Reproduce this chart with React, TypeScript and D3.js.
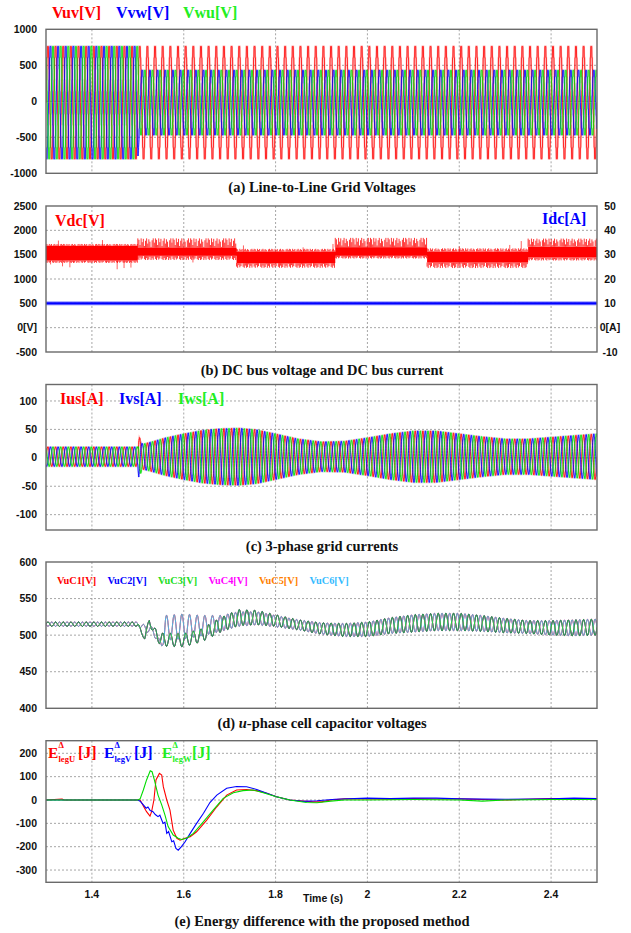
import React from "react";
import * as d3 from "d3";

// time axis (shared by all five panels)
const T_START = 1.3;
const T_END = 2.5;
const T_TICKS = [1.4, 1.6, 1.8, 2.0, 2.2, 2.4];
const T_TICK_LABELS = ["1.4", "1.6", "1.8", "2", "2.2", "2.4"];
const GRID_HZ = 60;

// (a) line-to-line grid voltages: peak envelopes
const VLL_T = [1.3, 1.5, 1.503, 2.5];
const VUV_AMP = [780, 780, 780, 780];
const VVW_AMP = [780, 780, 448, 448];
const VWU_AMP = [780, 780, 448, 448];
const VLL_OFFSET = -18;
const VLL_TICKS = [1000, 500, 0, -500, -1000];

// (b) DC bus voltage: band segments, and DC current
const VDC_SEG_T = [1.3, 1.5, 1.715, 1.93, 2.13, 2.35];
const VDC_BODY_HI = [1680, 1640, 1560, 1650, 1560, 1660];
const VDC_BODY_LO = [1380, 1480, 1330, 1480, 1340, 1440];
const VDC_COMB_UP = [1720, 1835, 1620, 1845, 1630, 1830];
const VDC_COMB_DOWN = [1330, 1390, 1230, 1420, 1225, 1380];
const COMB_PATTERN = [1, 0.85, 0.3, 1, 0.6, 0.95, 0.2, 0.75, 1, 0.45, 0.9, 0.65, 0.1, 0.8, 1, 0.55];
const VDC_SPIKE_T = [1.327, 1.423, 1.31, 1.336, 1.352, 1.455, 1.47, 1.485, 1.73, 1.86, 1.925, 2.31, 2.335, 2.2, 1.62];
const VDC_SPIKE_V = [1790, 1800, 1300, 1260, 1240, 1200, 1225, 1235, 1690, 1650, 1720, 1700, 1780, 1670, 1340];
const IDC_A = 10;
const VDC_TICKS = [2500, 2000, 1500, 1000, 500, 0, -500];
const VDC_TICK_LABELS = ["2500", "2000", "1500", "1000", "500", "0[V]", "-500"];
const IDC_TICKS = [50, 40, 30, 20, 10, 0, -10];
const IDC_TICK_LABELS = ["50", "40", "30", "20", "10", "0[A]", "-10"];

// (c) 3-phase grid currents: peak envelope
const IS_T = [1.3, 1.5, 1.502, 1.506, 1.51, 1.53, 1.56, 1.6, 1.64, 1.68, 1.72, 1.76, 1.8, 1.85, 1.9, 1.95, 2.0, 2.05, 2.1, 2.15, 2.2, 2.25, 2.3, 2.35, 2.4, 2.45, 2.5];
const IS_AMP = [17, 17, 36, 30, 22, 26, 33, 40, 46, 49, 50, 47, 40, 31, 26, 27, 33, 40, 45, 45, 40, 35, 31, 31, 34, 37, 40];
const IS_OFFSET = 2;
const IS_TICKS = [100, 50, 0, -50, -100];

// (d) u-phase cell capacitor voltages: mean and ripple amplitude
const CAP_A_T = [1.3, 1.5, 1.508, 1.515, 1.525, 1.535, 1.55, 1.6, 1.64, 1.68, 1.72, 1.76, 1.8, 1.85, 1.9, 1.95, 2.0, 2.05, 2.1, 2.15, 2.2, 2.25, 2.3, 2.35, 2.4, 2.45, 2.5];
const CAP_A_MEAN = [515, 515, 503, 496, 520, 505, 494, 493, 500, 514, 524, 524, 520, 514, 509, 507, 508, 513, 516, 518, 518, 516, 513, 511, 510, 510, 511];
const CAP_A_AMP = [3, 3, 2, 2, 4, 6, 9, 9, 9, 10, 11, 10, 8, 7, 8, 9, 10, 11, 12, 12, 12, 11, 10, 9, 10, 11, 11];
const CAP_B_T = [1.3, 1.5, 1.515, 1.535, 1.545, 1.552, 1.56, 1.6, 1.64, 1.68, 1.72, 1.76, 1.8, 1.85, 1.9, 1.95, 2.0, 2.05, 2.1, 2.15, 2.2, 2.25, 2.3, 2.35, 2.4, 2.45, 2.5];
const CAP_B_MEAN = [515, 515, 510, 505, 492, 488, 510, 512, 513, 516, 522, 523, 519, 514, 509, 507, 508, 513, 516, 518, 518, 516, 513, 511, 510, 510, 511];
const CAP_B_AMP = [3, 3, 4, 6, 4, 4, 17, 17, 14, 11, 10, 9, 8, 7, 8, 9, 10, 11, 12, 12, 12, 11, 10, 9, 10, 11, 11];
const CAP_NAMES = ["VuC1[V]", "VuC2[V]", "VuC3[V]", "VuC4[V]", "VuC5[V]", "VuC6[V]"];
const CAP_COLORS = ["#ff0000", "#0000ff", "#22dd22", "#ff00ff", "#ff8000", "#33bbff"];
const CAP_TICKS = [600, 550, 500, 450, 400];

// (e) leg energy differences
const EU_T = [1.3, 1.335, 1.34, 1.5, 1.505, 1.512, 1.519, 1.5265, 1.53, 1.535, 1.5395, 1.547, 1.552, 1.5555, 1.563, 1.57, 1.577, 1.585, 1.592, 1.603, 1.614, 1.628, 1.65, 1.672, 1.6935, 1.715, 1.737, 1.759, 1.781, 1.802, 1.831, 1.853, 1.882, 1.9, 1.92, 1.95, 2.0, 2.05, 2.1, 2.15, 2.2, 2.25, 2.3, 2.35, 2.4, 2.45, 2.5];
const EU_V = [0, 4, 0, 0, 0, -26, -50, -69, -50, 0, 86, 114, 107, 57, 0, -43, -129, -164, -172, -164, -157, -136, -86, -29, 21, 43, 45, 40, 29, 14, 0, -3, -8, -8, 0, 5, 5, 3, 6, 4, 5, 2, 0, 3, 6, 4, 3];
const EV_T = [1.3, 1.5, 1.505, 1.512, 1.518, 1.522, 1.527, 1.533, 1.538, 1.544, 1.548, 1.555, 1.559, 1.563, 1.567, 1.574, 1.578, 1.583, 1.588, 1.595, 1.603, 1.614, 1.628, 1.643, 1.657, 1.672, 1.6935, 1.715, 1.737, 1.759, 1.781, 1.802, 1.831, 1.86, 1.89, 1.93, 2.0, 2.05, 2.1, 2.15, 2.2, 2.3, 2.4, 2.45, 2.5];
const EV_V = [0, 0, -5, -21, -35, -30, -45, -50, -62, -71, -65, -100, -95, -143, -135, -179, -175, -207, -215, -200, -179, -143, -100, -57, -11, 21, 50, 58, 57, 45, 29, 14, 0, -6, -3, 3, 8, 6, 8, 8, 5, 3, 5, 8, 6];
const EW_T = [1.3, 1.5, 1.505, 1.512, 1.519, 1.527, 1.531, 1.536, 1.544, 1.552, 1.559, 1.566, 1.577, 1.588, 1.595, 1.606, 1.621, 1.643, 1.664, 1.686, 1.708, 1.729, 1.751, 1.773, 1.802, 1.831, 1.867, 1.89, 1.92, 1.95, 2.0, 2.1, 2.2, 2.25, 2.3, 2.4, 2.5];
const EW_V = [0, 0, 5, 43, 86, 125, 121, 86, 21, -21, -64, -114, -150, -164, -169, -164, -143, -93, -43, 7, 31, 40, 43, 31, 14, 0, -11, -12, -5, 0, 0, 2, 0, -5, 0, 2, 2];
const E_TICKS = [200, 100, 0, -100, -200, -300];

const RED = "#ff0000";
const BLUE = "#0000ff";
const GREEN = "#00dd00";
const LEGEND_GREEN = "#22ee22";

const SERIF = "'Liberation Serif', 'Times New Roman', serif";
const SANS = "'Liberation Sans', Arial, sans-serif";

const x = d3.scaleLinear().domain([T_START, T_END]).range([46, 597]);
const samples = d3.range(T_START, T_END, 1 / (GRID_HZ * 48)).concat([T_END]);

const envelope = (ts: number[], vs: number[]) =>
  d3.scaleLinear().domain(ts).range(vs).clamp(true);

function sineSeries(
  amp: (t: number) => number,
  mean: (t: number) => number,
  phaseDeg: number,
  steps = 0
): [number, number][] {
  return samples.map((t) => {
    const s = Math.sin(2 * Math.PI * GRID_HZ * t + (phaseDeg * Math.PI) / 180);
    const q = steps ? Math.round(s * steps) / steps : s;
    return [t, mean(t) + amp(t) * q];
  });
}

const pathOf = (y: d3.ScaleLinear<number, number>, pts: [number, number][]) =>
  d3
    .line<[number, number]>()
    .x((d) => x(d[0]))
    .y((d) => y(d[1]))(pts) || "";

function Frame({
  id,
  top,
  bottom,
  y,
  ticks,
  labels,
  children,
}: {
  id: string;
  top: number;
  bottom: number;
  y: d3.ScaleLinear<number, number>;
  ticks: number[];
  labels?: string[];
  children?: React.ReactNode;
}) {
  const [x0, x1] = x.range();
  return (
    <g>
      <defs>
        <clipPath id={id}>
          <rect x={x0} y={top} width={x1 - x0} height={bottom - top} />
        </clipPath>
      </defs>
      {ticks
        .filter((v) => y(v) > top + 2 && y(v) < bottom - 2)
        .map((v) => (
          <line key={"h" + v} x1={x0} x2={x1} y1={y(v)} y2={y(v)} stroke="#9c9c9c" strokeWidth={0.9} strokeDasharray="2,2" />
        ))}
      {T_TICKS.map((t) => (
        <line key={"v" + t} x1={x(t)} x2={x(t)} y1={top} y2={bottom} stroke="#9c9c9c" strokeWidth={0.9} strokeDasharray="2,2" />
      ))}
      <g clipPath={`url(#${id})`}>{children}</g>
      <rect x={x0} y={top} width={x1 - x0} height={bottom - top} fill="none" stroke="#6a6a6a" strokeWidth={1.4} />
      {ticks.map((v, i) => (
        <text key={"l" + v} x={37} y={y(v)} dy="0.35em" textAnchor="end" fontFamily={SANS} fontWeight={700} fontSize={10.5} fill="#111">
          {labels ? labels[i] : String(v)}
        </text>
      ))}
    </g>
  );
}

function Wave({ d, color, halo = 1.8, width = 0.8 }: { d: string; color: string; halo?: number; width?: number }) {
  return (
    <g>
      <path d={d} fill="none" stroke={color} strokeOpacity={0.28} strokeWidth={halo} />
      <path d={d} fill="none" stroke={color} strokeWidth={width} />
    </g>
  );
}

function Caption({ y, children }: { y: number; children: React.ReactNode }) {
  return (
    <text x={322} y={y} textAnchor="middle" fontFamily={SERIF} fontWeight={700} fontSize={14.5} fill="#111">
      {children}
    </text>
  );
}

function Label({ x: lx, y: ly, color, size = 16, children }: { x: number; y: number; color: string; size?: number; children: React.ReactNode }) {
  return (
    <text x={lx} y={ly} fontFamily={SERIF} fontWeight={700} fontSize={size} fill={color}>
      {children}
    </text>
  );
}

function EnergyLabel({ x: lx, color, leg }: { x: number; color: string; leg: string }) {
  return (
    <g fill={color} fontFamily={SERIF} fontWeight={700}>
      <text x={lx} y={758} fontSize={15.5}>E</text>
      <text x={lx + 10.5} y={748} fontSize={8.5}>Δ</text>
      <text x={lx + 10.5} y={762} fontSize={8.5}>{"leg" + leg}</text>
      <text x={lx + 30} y={758} fontSize={16}>[J]</text>
    </g>
  );
}

export default function App() {
  // (a)
  const yA = d3.scaleLinear().domain([-1000, 1000]).range([173.3, 29.3]);
  const off = () => VLL_OFFSET;
  const vuv = pathOf(yA, sineSeries(envelope(VLL_T, VUV_AMP), off, 0, 5));
  const vvw = pathOf(yA, sineSeries(envelope(VLL_T, VVW_AMP), off, -120, 5));
  const vwu = pathOf(yA, sineSeries(envelope(VLL_T, VWU_AMP), off, 120, 5));

  // (b)
  const yB = d3.scaleLinear().domain([-500, 2500]).range([352, 206]);
  const yBr = d3.scaleLinear().domain([-10, 50]).range([352, 206]);
  const segEnds = VDC_SEG_T.slice(1).concat([T_END]);
  const bodyPts = VDC_SEG_T.flatMap((t, i) => [
    { t, hi: VDC_BODY_HI[i], lo: VDC_BODY_LO[i] },
    { t: segEnds[i], hi: VDC_BODY_HI[i], lo: VDC_BODY_LO[i] },
  ]);
  const bodyPath =
    d3
      .area<{ t: number; hi: number; lo: number }>()
      .x((d) => x(d.t))
      .y0((d) => yB(d.lo))
      .y1((d) => yB(d.hi))(bodyPts) || "";
  const comb: { x: number; y1: number; y2: number }[] = [];
  VDC_SEG_T.forEach((t, i) => {
    const px = d3.range(x(t), x(segEnds[i]), 1.1);
    px.forEach((p, k) => {
      const fu = COMB_PATTERN[k % COMB_PATTERN.length];
      const fd = COMB_PATTERN[(k + 7) % COMB_PATTERN.length];
      comb.push({ x: p, y1: yB(VDC_BODY_HI[i]), y2: yB(VDC_BODY_HI[i] + fu * (VDC_COMB_UP[i] - VDC_BODY_HI[i])) });
      comb.push({ x: p, y1: yB(VDC_BODY_LO[i]), y2: yB(VDC_BODY_LO[i] + fd * (VDC_COMB_DOWN[i] - VDC_BODY_LO[i])) });
    });
  });

  // (c)
  const yC = d3.scaleLinear().domain([-127, 129]).range([530, 384.5]);
  const isAmp = envelope(IS_T, IS_AMP);
  const isOff = () => IS_OFFSET;
  const ius = pathOf(yC, sineSeries(isAmp, isOff, 0, 8));
  const ivs = pathOf(yC, sineSeries(isAmp, isOff, -120, 8));
  const iws = pathOf(yC, sineSeries(isAmp, isOff, 120, 8));

  // (d)
  const yD = d3.scaleLinear().domain([400, 600]).range([708.3, 562]);
  const aMean = envelope(CAP_A_T, CAP_A_MEAN);
  const aAmp = envelope(CAP_A_T, CAP_A_AMP);
  const bMean = envelope(CAP_B_T, CAP_B_MEAN);
  const bAmp = envelope(CAP_B_T, CAP_B_AMP);
  const capPaths = CAP_COLORS.map((c, i) =>
    i < 3
      ? pathOf(yD, sineSeries(aAmp, aMean, 1.5 * (i - 2)))
      : pathOf(yD, sineSeries(bAmp, bMean, 180 + 1.5 * (i - 5)))
  );
  const capOrder = [0, 1, 3, 4, 5, 2];

  // (e)
  const yE = d3.scaleLinear().domain([-352.5, 254]).range([882.3, 740.7]);
  const zip = (ts: number[], vs: number[]) => ts.map((t, i) => [t, vs[i]] as [number, number]);

  return (
    <svg width={631} height={933} style={{ position: "absolute", left: 0, top: 0, background: "#fff" }}>
      <rect width={631} height={933} fill="#fff" />

      {/* (a) */}
      <Frame id="ca" top={29.3} bottom={173.3} y={yA} ticks={VLL_TICKS}>
        <Wave d={vuv} color={RED} />
        <Wave d={vvw} color={BLUE} />
        <Wave d={vwu} color={GREEN} />
      </Frame>
      <Label x={52} y={18} color={RED}>Vuv[V]</Label>
      <Label x={116} y={18} color={BLUE}>Vvw[V]</Label>
      <Label x={183} y={18} color={LEGEND_GREEN}>Vwu[V]</Label>
      <Caption y={191.5}>(a) Line-to-Line Grid Voltages</Caption>

      {/* (b) */}
      <Frame id="cb" top={206} bottom={352} y={yB} ticks={VDC_TICKS} labels={VDC_TICK_LABELS}>
        <path d={bodyPath} fill={RED} />
        {comb.map((c, i) => (
          <line key={i} x1={c.x} x2={c.x} y1={c.y1} y2={c.y2} stroke={RED} strokeWidth={0.8} />
        ))}
        {VDC_SPIKE_T.map((t, i) => {
          const seg = d3.bisectRight(VDC_SEG_T, t) - 1;
          const base = VDC_SPIKE_V[i] > VDC_BODY_HI[seg] ? VDC_BODY_HI[seg] : VDC_BODY_LO[seg];
          return <line key={"s" + i} x1={x(t)} x2={x(t)} y1={yB(base)} y2={yB(VDC_SPIKE_V[i])} stroke={RED} strokeOpacity={0.7} strokeWidth={0.9} />;
        })}
        <line x1={x(T_START)} x2={x(T_END)} y1={yBr(IDC_A)} y2={yBr(IDC_A)} stroke={BLUE} strokeOpacity={0.3} strokeWidth={4.5} />
        <line x1={x(T_START)} x2={x(T_END)} y1={yBr(IDC_A)} y2={yBr(IDC_A)} stroke={BLUE} strokeWidth={2.2} />
      </Frame>
      {IDC_TICKS.map((v, i) => (
        <text key={"r" + v} x={610} y={yBr(v)} dy="0.35em" textAnchor="middle" fontFamily={SANS} fontWeight={700} fontSize={10.5} fill="#111">
          {IDC_TICK_LABELS[i]}
        </text>
      ))}
      <Label x={55} y={226} color={RED}>Vdc[V]</Label>
      <Label x={542} y={224} color={BLUE}>Idc[A]</Label>
      <Caption y={375}>(b) DC bus voltage and DC bus current</Caption>

      {/* (c) */}
      <Frame id="cc" top={384.5} bottom={530} y={yC} ticks={IS_TICKS}>
        <Wave d={ius} color={RED} />
        <Wave d={ivs} color={BLUE} />
        <Wave d={iws} color={GREEN} />
      </Frame>
      <Label x={60} y={404} color={RED}>Ius[A]</Label>
      <Label x={119} y={404} color={BLUE}>Ivs[A]</Label>
      <Label x={178} y={404} color={LEGEND_GREEN}>Iws[A]</Label>
      <Caption y={550.5}>(c) 3-phase grid currents</Caption>

      {/* (d) */}
      <Frame id="cd" top={562} bottom={708.3} y={yD} ticks={CAP_TICKS}>
        {capOrder.map((i) => (
          <path key={i} d={capPaths[i]} fill="none" stroke={CAP_COLORS[i]} strokeWidth={0.9} />
        ))}
      </Frame>
      {CAP_NAMES.map((n, i) => (
        <Label key={n} x={57 + i * 50.5} y={584} color={CAP_COLORS[i]} size={10.3}>
          {n}
        </Label>
      ))}
      <Caption y={728}>
        (d) <tspan fontStyle="italic">u</tspan>-phase cell capacitor voltages
      </Caption>

      {/* (e) */}
      <Frame id="ce" top={740.7} bottom={882.3} y={yE} ticks={E_TICKS}>
        <path d={pathOf(yE, zip(EU_T, EU_V))} fill="none" stroke={RED} strokeWidth={1.1} />
        <path d={pathOf(yE, zip(EV_T, EV_V))} fill="none" stroke={BLUE} strokeWidth={1.1} />
        <path d={pathOf(yE, zip(EW_T, EW_V))} fill="none" stroke={GREEN} strokeWidth={1.1} />
      </Frame>
      <EnergyLabel x={48} color={RED} leg="U" />
      <EnergyLabel x={104} color={BLUE} leg="V" />
      <EnergyLabel x={162} color={LEGEND_GREEN} leg="W" />
      {T_TICKS.map((t, i) => (
        <text key={"t" + t} x={x(t)} y={898} textAnchor="middle" fontFamily={SANS} fontWeight={700} fontSize={10.5} fill="#111">
          {T_TICK_LABELS[i]}
        </text>
      ))}
      <text x={323} y={902} textAnchor="middle" fontFamily={SANS} fontWeight={700} fontSize={10.5} fill="#111">
        Time (s)
      </text>
      <Caption y={926}>(e) Energy difference with the proposed method</Caption>
    </svg>
  );
}
